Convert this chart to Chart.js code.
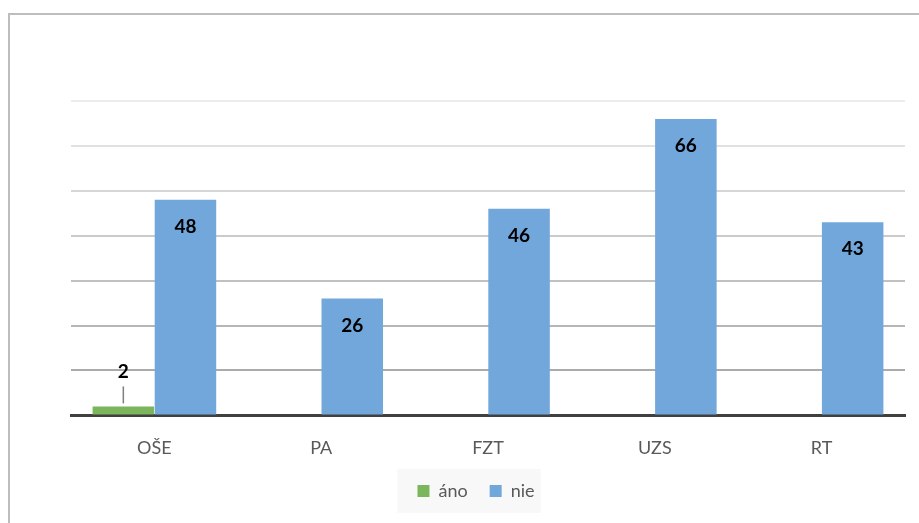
<!DOCTYPE html>
<html>
<head>
<meta charset="utf-8">
<script src="https://cdn.jsdelivr.net/npm/chart.js@4"></script>
<style>
  body { margin: 0; background: #fff; }
  #wrap { position: relative; width: 919px; height: 523px; overflow: hidden; }
  #frame { position: absolute; left: 8px; top: 13px; width: 1000px; height: 600px;
           border-left: 2px solid #bdbdbd; border-top: 2px solid #bdbdbd; }
  canvas { position: absolute; left: 0; top: 0; }
</style>
</head>
<body>
<div id="wrap">
  <div id="frame"></div>
  <canvas id="chart" width="919" height="523"></canvas>
</div>
<script>
const categories = ["OŠE", "PA", "FZT", "UZS", "RT"];
const ano = [2, null, null, null, null];
const nie = [48, 26, 46, 66, 43];
const yTicks = [0, 10, 20, 30, 40, 50, 60, 70];

const legendShift = -12;

// etiquetas de valores sobre las barras
const valueLabels = {
  id: "valueLabels",
  afterDatasetsDraw(chart) {
    const ctx = chart.ctx;
    ctx.save();
    ctx.font = "bold 19px Lato";
    ctx.fillStyle = "#000";
    ctx.textAlign = "center";
    ctx.textBaseline = "middle";
    chart.data.datasets.forEach((ds, i) => {
      chart.getDatasetMeta(i).data.forEach((bar, j) => {
        const v = ds.data[j];
        if (v == null) return;
        if (i === 0) {
          // etiqueta afuera con linea guia
          ctx.fillText(v, bar.x, bar.y - 35);
          ctx.strokeStyle = "#7f7f7f";
          ctx.lineWidth = 1.5;
          ctx.beginPath();
          ctx.moveTo(bar.x, bar.y - 20);
          ctx.lineTo(bar.x, bar.y - 3);
          ctx.stroke();
        } else {
          ctx.fillText(v, bar.x, bar.y + 27);
        }
      });
    });
    ctx.restore();
  },
};

// fondo gris de la leyenda (y leyenda un poco a la izquierda)
const legendBg = {
  id: "legendBg",
  afterLayout(chart) {
    chart.legend.left += legendShift;
    chart.legend.right += legendShift;
  },
  beforeDraw(chart) {
    const boxes = chart.legend && chart.legend.legendHitBoxes;
    if (!boxes || !boxes.length) return;
    const left = Math.min(...boxes.map((b) => b.left)) - 8 + legendShift;
    const right = Math.max(...boxes.map((b) => b.left + b.width)) + 18 + legendShift;
    const top = boxes[0].top - 13;
    const bottom = boxes[0].top + boxes[0].height + 13;
    const ctx = chart.ctx;
    ctx.save();
    ctx.fillStyle = "#f8f8f8";
    ctx.fillRect(left, top, right - left, bottom - top);
    ctx.restore();
  },
};

new Chart(document.getElementById("chart"), {
  type: "bar",
  data: {
    labels: categories,
    datasets: [
      {
        label: "áno",
        data: ano,
        backgroundColor: "#7cb65c",
        categoryPercentage: 0.745,
        barPercentage: 0.99,
      },
      {
        label: "nie",
        data: nie,
        backgroundColor: "#71a7db",
        categoryPercentage: 0.745,
        barPercentage: 0.99,
      },
    ],
  },
  options: {
    responsive: false,
    animation: false,
    layout: { padding: { left: 71, right: 14, top: 101, bottom: 13 } },
    scales: {
      x: {
        grid: { display: false },
        border: { color: "#404040", width: 3 },
        ticks: { color: "#595959", font: { family: "Lato", size: 18 }, padding: 14 },
        afterFit: (axis) => {
          axis.height -= 13;
        },
      },
      y: {
        min: 0,
        max: 70,
        afterBuildTicks: (axis) => {
          axis.ticks = yTicks.map((v) => ({ value: v }));
        },
        ticks: { display: false },
        border: { display: false },
        grid: {
          drawTicks: false,
          lineWidth: 2,
          color: (c) => {
            const t = c.tick ? c.tick.value / 70 : 0;
            const g = Math.round(160 + t * 76);
            return `rgb(${g},${g},${g})`;
          },
        },
      },
    },
    plugins: {
      tooltip: { enabled: false },
      legend: {
        position: "bottom",
        labels: {
          color: "#595959",
          font: { family: "Lato", size: 18 },
          boxWidth: 12,
          boxHeight: 12,
          padding: 22,
        },
      },
    },
  },
  plugins: [valueLabels, legendBg],
});
</script>
</body>
</html>
